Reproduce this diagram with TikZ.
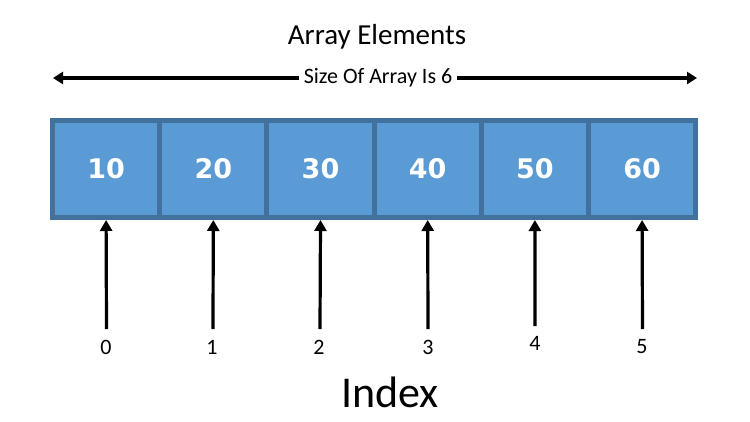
\documentclass[tikz,border=0pt]{standalone}
\usepackage{fontspec}
\setmainfont{Carlito}
\newfontfamily\numfont{DejaVu Sans}
\usetikzlibrary{arrows.meta}
\definecolor{cellfill}{HTML}{5B9BD5}
\definecolor{cellline}{HTML}{41719C}
\begin{document}
\begin{tikzpicture}[x=1pt,y=-1pt,
  cell/.style={draw=cellline, fill=cellfill, line width=5pt, minimum width=107.2pt,
    minimum height=97pt, inner sep=0pt, text=white,
    font=\numfont\bfseries\fontsize{27}{27}\selectfont},
  idxlabel/.style={inner sep=0pt, font=\fontsize{22}{22}\selectfont},
  uparrow/.style={line width=3.2pt, -{Triangle[length=11pt,width=12pt]}},
  sizearrow/.style={line width=3.2pt, -{Triangle[length=10pt,width=12pt]}}]
\useasboundingbox (0,0) rectangle (750,421);
% title
\node[font=\fontsize{29}{29}\selectfont] (title) at (377,37) {Array Elements};
% size arrow
\node[inner sep=5pt, font=\fontsize{22}{22}\selectfont] (size) at (378,78) {Size Of Array Is 6};
\coordinate (L) at (53,78);
\coordinate (R) at (697,78);
\draw[sizearrow] (size.west) -- (L);
\draw[sizearrow] (size.east) -- (R);
% cells
\node[cell] (c0) at (106.1,169) {10};
\node[cell] (c1) at (213.3,169) {20};
\node[cell] (c2) at (320.5,169) {30};
\node[cell] (c3) at (427.7,169) {40};
\node[cell] (c4) at (534.9,169) {50};
\node[cell] (c5) at (642.1,169) {60};
% index arrows
\coordinate (a0) at (106.5,329);
\coordinate (a1) at (213,329);
\coordinate (a2) at (320,329);
\coordinate (a3) at (428,329);
\coordinate (a4) at (535,326);
\coordinate (a5) at (642.5,329);
\draw[uparrow] (a0) -- (c0.south);
\draw[uparrow] (a1) -- (c1.south);
\draw[uparrow] (a2) -- (c2.south);
\draw[uparrow] (a3) -- (c3.south);
\draw[uparrow] (a4) -- (c4.south);
\draw[uparrow] (a5) -- (c5.south);
% index labels
\node[idxlabel] (i0) at (106,347) {0};
\node[idxlabel] (i1) at (212,347) {1};
\node[idxlabel] (i2) at (319,347) {2};
\node[idxlabel] (i3) at (428,347) {3};
\node[idxlabel] (i4) at (535,343) {4};
\node[idxlabel] (i5) at (642,347) {5};
\node[font=\fontsize{44}{44}\selectfont] (index) at (390,392) {Index};
\end{tikzpicture}
\end{document}
